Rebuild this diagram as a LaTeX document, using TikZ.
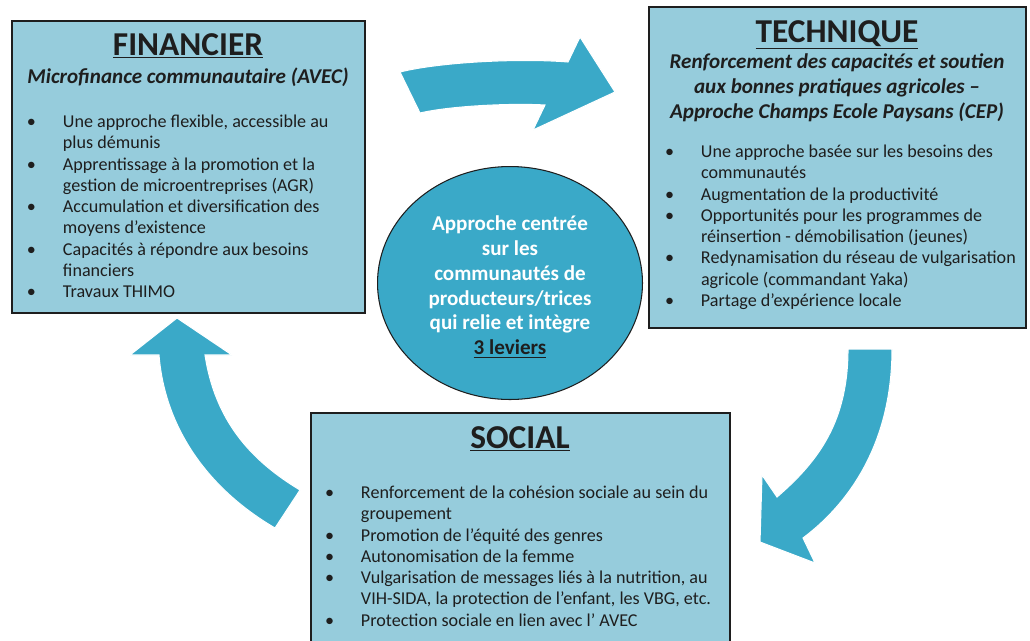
\documentclass[tikz,border=0pt]{standalone}
\usepackage{fontspec}
\setmainfont{Carlito}
\usepackage{tikz}
\usetikzlibrary{shapes.geometric}

\definecolor{boxblue}{HTML}{96CCDC}
\definecolor{arrowblue}{HTML}{3AA9C8}
\definecolor{inkgray}{HTML}{1E1E1E}

\newcommand\puce{\makebox[0.72cm][l]{\textbullet}}
\newcommand\suite{\hspace*{0.72cm}}

\begin{document}
\begin{tikzpicture}[x=0.02cm,y=-0.02cm]
\tikzstyle{every node}+=[inner sep=0pt, outer sep=0pt, text=inkgray]
\tikzstyle{levier}=[draw=inkgray, line width=1.2pt, fill=boxblue, anchor=north west]
\tikzstyle{titre}=[font=\fontsize{19}{21}\selectfont\bfseries, anchor=base]
\tikzstyle{sous}=[font=\fontsize{12}{14}\selectfont\bfseries\itshape, align=center]
\tikzstyle{liste}=[font=\fontsize{10.3}{12.1}\selectfont, align=left, anchor=north west]
\tikzstyle{fleche}=[fill=arrowblue, draw=white, line width=0.6pt]
\tikzstyle{hub}=[ellipse, draw=inkgray, line width=0.6pt, fill=arrowblue, minimum width=5.3cm, minimum height=4.66cm]
\tikzstyle{hubtexte}=[text=white, align=center, font=\fontsize{12}{14.2}\selectfont\bfseries]

\useasboundingbox (0,0) rectangle (1030,640);
\clip (0,0) rectangle (1030,640);

% les trois leviers
\node[levier, minimum width=7.06cm, minimum height=5.84cm] (fin) at (12,21) {};
\node[levier, minimum width=7.54cm, minimum height=6.42cm] (tech) at (649,7) {};
\node[levier, minimum width=8.38cm, minimum height=5cm] (soc) at (311,413) {};

\node[titre] (fint) at (188,55) {\underline{FINANCIER}};
\node[sous, anchor=base] (fins) at (188,83) {Microfinance communautaire (AVEC)};
\node[liste] (finl) at (27,115) {%
\puce Une approche flexible, accessible au\\
\suite plus démunis\\
\puce Apprentissage à la promotion et la\\
\suite gestion de microentreprises (AGR)\\
\puce Accumulation et diversification des\\
\suite moyens d’existence\\
\puce Capacités à répondre aux besoins\\
\suite financiers\\
\puce Travaux THIMO};

\node[titre] (techt) at (837,42) {\underline{TECHNIQUE}};
\node[sous, anchor=north] (techs) at (837,54) {Renforcement des capacités et soutien\\
aux bonnes pratiques agricoles –\\
Approche Champs Ecole Paysans (CEP)};
\node[liste] (techl) at (665,145) {%
\puce Une approche basée sur les besoins des\\
\suite communautés\\
\puce Augmentation de la productivité\\
\puce Opportunités pour les programmes de\\
\suite réinsertion - démobilisation (jeunes)\\
\puce Redynamisation du réseau de vulgarisation\\
\suite agricole (commandant Yaka)\\
\puce Partage d’expérience locale};

\node[titre] (soct) at (520,448) {\underline{SOCIAL}};
\node[liste] (socl) at (325,486) {%
\puce Renforcement de la cohésion sociale au sein du\\
\suite groupement\\
\puce Promotion de l’équité des genres\\
\puce Autonomisation de la femme\\
\puce Vulgarisation de messages liés à la nutrition, au\\
\suite VIH-SIDA, la protection de l’enfant, les VBG, etc.\\
\puce Protection sociale en lien avec l’ AVEC};

% approche centrale
\node[hub] (hub) at (510,283) {};
\node[hubtexte] (hubt) at (510,287) {Approche centrée\\ sur les\\ communautés de\\ producteurs/trices\\ qui relie et intègre\\ \textcolor{inkgray}{\underline{3 leviers}}};

% fleches du cycle
\fill[fleche] (400,72) .. controls (440,62) and (520,58) .. (568,62) -- (580,37) -- (615,92)
  -- (533,130) -- (545,105) .. controls (510,103) and (450,106) .. (420,113) -- cycle;
\fill[fleche] (848,349) -- (892,349) .. controls (892,430) and (860,495) .. (803,538)
  -- (815,563) -- (760,542) -- (762,475) -- (777,497) .. controls (820,460) and (848,420) .. cycle;
\fill[fleche] (177,318) -- (232,355) -- (205,355) .. controls (215,420) and (250,460) .. (300,490)
  -- (275,528) .. controls (210,490) and (165,430) .. (159,355) -- (130,355) -- cycle;
\end{tikzpicture}
\end{document}
